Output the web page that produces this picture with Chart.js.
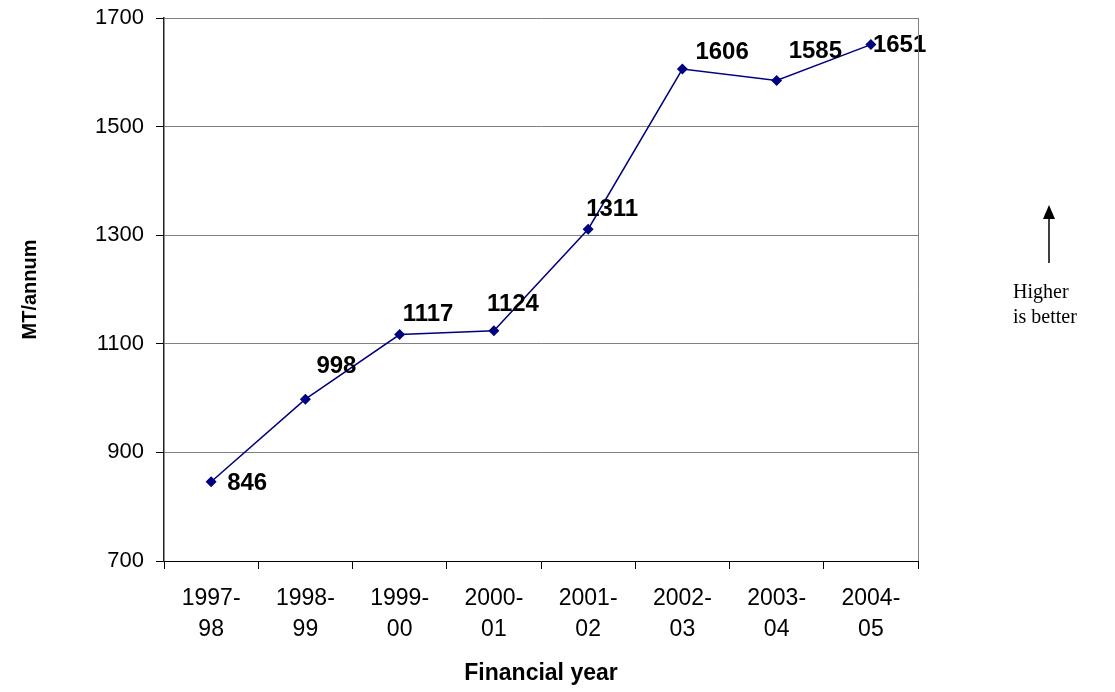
<!DOCTYPE html>
<html>
<head>
<meta charset="utf-8">
<script src="https://cdn.jsdelivr.net/npm/chart.js@4/dist/chart.umd.min.js"></script>
<style>
html,body{margin:0;padding:0;background:#fff;}
#wrap{width:1115px;height:692px;position:relative;}
</style>
</head>
<body>
<div id="wrap"><canvas id="c" width="1115" height="692"></canvas></div>
<script>
const categories = [["1997-","98"],["1998-","99"],["1999-","00"],["2000-","01"],["2001-","02"],["2002-","03"],["2003-","04"],["2004-","05"]];
const values = [846, 998, 1117, 1124, 1311, 1606, 1585, 1651];
const yTicks = [700, 900, 1100, 1300, 1500, 1700];
const xTitle = "Financial year";
const yTitle = "MT/annum";
const noteLines = ["Higher", "is better"];

// label placement offsets (left edge / vertical centre relative to point)
const labelOffsets = [[16,2],[11,-33],[3,-20],[-7,-26],[-2,-20],[13,-17],[12,-29],[2,1]];

const FONT = "'Liberation Sans', Arial, sans-serif";

const extras = {
  id: 'extras',
  afterDatasetsDraw(chart) {
    const ctx = chart.ctx;
    const meta = chart.getDatasetMeta(0);
    ctx.save();
    ctx.font = "bold 24px " + FONT;
    ctx.fillStyle = "#000";
    ctx.textAlign = "left";
    ctx.textBaseline = "middle";
    meta.data.forEach((pt, i) => {
      const o = labelOffsets[i];
      ctx.fillText(String(values[i]), pt.x + o[0], pt.y + o[1]);
    });
    ctx.restore();
  },
  afterDraw(chart) {
    const ctx = chart.ctx;
    const a = chart.chartArea;
    ctx.save();
    // right border
    ctx.strokeStyle = "#808080";
    ctx.lineWidth = 1;
    ctx.beginPath();
    ctx.moveTo(Math.round(a.right) + 0.5, a.top);
    ctx.lineTo(Math.round(a.right) + 0.5, a.bottom);
    ctx.stroke();
    // arrow
    ctx.strokeStyle = "#000";
    ctx.lineWidth = 1.5;
    ctx.beginPath();
    ctx.moveTo(1049, 263);
    ctx.lineTo(1049, 215);
    ctx.stroke();
    ctx.fillStyle = "#000";
    ctx.beginPath();
    ctx.moveTo(1049, 205);
    ctx.lineTo(1043, 219);
    ctx.lineTo(1055, 219);
    ctx.closePath();
    ctx.fill();
    ctx.font = "20px 'Liberation Serif', 'Times New Roman', serif";
    ctx.textAlign = "left";
    ctx.textBaseline = "middle";
    ctx.fillText(noteLines[0], 1013, 293);
    ctx.fillText(noteLines[1], 1013, 318);
    ctx.restore();
  }
};

new Chart(document.getElementById('c'), {
  type: 'line',
  data: {
    labels: categories,
    datasets: [{
      data: values,
      borderColor: '#000080',
      backgroundColor: '#000080',
      borderWidth: 1.5,
      pointStyle: 'rectRot',
      pointRadius: 5.5,
      pointBorderWidth: 0,
      tension: 0,
      fill: false
    }]
  },
  options: {
    responsive: false,
    animation: false,
    layout: { padding: { top: 18, right: 197, bottom: 0, left: 0 } },
    plugins: { legend: { display: false }, tooltip: { enabled: false } },
    scales: {
      x: {
        offset: true,
        grid: { offset: true, drawOnChartArea: false, tickLength: 8, color: '#000', tickColor: '#000' },
        border: { color: '#000', width: 1 },
        ticks: { font: { size: 23, family: FONT, lineHeight: 1.35 }, color: '#000', padding: 14, maxRotation: 0, autoSkip: false },
        title: { display: true, text: xTitle, font: { size: 23, weight: 'bold', family: FONT }, color: '#000', padding: { top: 0, bottom: 5 } },
        afterFit(scale) { scale.height = 131; scale.paddingLeft = 0; scale.paddingRight = 0; }
      },
      y: {
        min: 700, max: 1700,
        afterBuildTicks(scale) { scale.ticks = yTicks.map(v => ({ value: v })); },
        grid: { color: '#808080', tickColor: '#000', tickLength: 8, lineWidth: 1 },
        border: { color: '#222', width: 1.5 },
        ticks: { font: { size: 22, family: FONT }, color: '#000', padding: 12, callback: (v) => String(v) },
        title: { display: true, text: yTitle, font: { size: 20, weight: 'bold', family: FONT }, color: '#000', padding: { top: 18, bottom: 0 } },
        afterFit(scale) { scale.width = 164; scale.paddingTop = 0; scale.paddingBottom = 0; }
      }
    }
  },
  plugins: [extras]
});
</script>
</body>
</html>
